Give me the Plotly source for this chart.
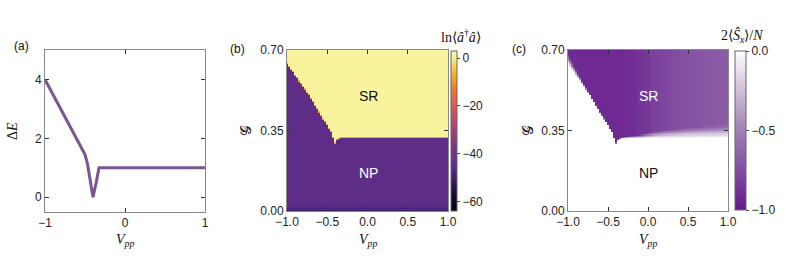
import numpy as np
import plotly.graph_objects as go

W, H = 789, 263

# ---------------- data ----------------
# panel (a): gap Delta E vs V_pp
a_vpp = [-1.0, -0.52, -0.50, -0.47, -0.43, -0.40, -0.36, -0.325, 1.0]
a_dE = [4.0, 1.6, 1.45, 1.15, 0.5, 0.0, 0.5, 1.0, 1.0]

# heatmap grid (columns V_pp, rows G)
vpp_cols = np.round(np.arange(-1.0, 1.0001, 0.025), 3)
g_rows = np.round(np.arange(0.0, 0.7001, 0.005), 3)

# phase boundary G_c(V_pp), one value per column
boundary = [0.640, 0.628, 0.615, 0.603, 0.590, 0.578, 0.565, 0.553, 0.540,
            0.527, 0.514, 0.501, 0.487, 0.473, 0.458, 0.443, 0.428, 0.414,
            0.400, 0.386, 0.372, 0.357, 0.341, 0.316, 0.294, 0.308, 0.314,
            0.318, 0.319] + [0.320] * 52

# panel (b): ln<a^dag a> levels
b_sr_level = 1.5
b_edge_level = -8.0
b_np_level = -45.0
b_np_low_rows = [-52.0, -46.0, -49.0, -45.5, -47.0, -45.5, -46.0]  # lowest G rows

# panel (c): 2<S_x>/N level in SR phase per column and fade width above boundary
c_sr_level = [-0.92] * 29 + [
    -0.91, -0.90, -0.91, -0.88, -0.90, -0.89, -0.86, -0.88, -0.85, -0.87, -0.84,
    -0.85, -0.83, -0.82, -0.81, -0.80, -0.80, -0.79, -0.78, -0.78, -0.77, -0.77,
    -0.76, -0.76, -0.75, -0.75, -0.74, -0.74, -0.73, -0.73, -0.73, -0.72, -0.72,
    -0.72, -0.71, -0.71, -0.71, -0.70, -0.70, -0.70, -0.70, -0.69, -0.69, -0.69,
    -0.69, -0.68, -0.68, -0.68, -0.68, -0.67, -0.67, -0.67]
c_fade = [0.045, 0.040, 0.035, 0.030, 0.025, 0.021, 0.018, 0.015, 0.012, 0.010,
          0.008, 0.007] + [0.005] * 17 + [
    0.006, 0.007, 0.008, 0.009, 0.010, 0.011, 0.012, 0.013, 0.015, 0.016, 0.018,
    0.020, 0.022, 0.024, 0.026, 0.028, 0.029, 0.030, 0.032, 0.033, 0.034, 0.035,
    0.036, 0.037, 0.038, 0.039, 0.040, 0.041, 0.042, 0.043, 0.044, 0.045,
    0.046, 0.046, 0.047, 0.047, 0.048, 0.048, 0.049, 0.049, 0.050, 0.050,
    0.051, 0.051, 0.052, 0.052, 0.053, 0.053, 0.054, 0.054, 0.055, 0.055]

b_ticks = [0, -20, -40, -60]
c_ticks = [0.0, -0.5, -1.0]

# ---------------- build grids ----------------
bnd = np.array(boundary)[None, :]
G = g_rows[:, None] + 0 * bnd
dist = G - bnd
sr = dist >= 0

z_b = np.full(G.shape, b_np_level)
for k, v in enumerate(b_np_low_rows):
    z_b[k, :] = v
z_b[sr] = b_sr_level
z_b[(dist >= 0) & (dist < 0.005)] = b_edge_level

lvl = np.array(c_sr_level)[None, :]
fd = np.array(c_fade)[None, :]
frac = np.clip((dist + 0.0025) / fd, 0, 1)
z_c = np.where(sr, lvl * frac, 0.0)

# ---------------- figure ----------------
def px(x):
    return x / W

def py(y):
    return 1 - y / H

font = "Liberation Sans, Arial, sans-serif"
serif = "Liberation Serif, Times New Roman, serif"

inferno_like = [
    [0.00, "#000004"], [0.12, "#1a1040"], [0.22, "#45217c"], [0.28, "#5c2d88"],
    [0.38, "#75338c"], [0.50, "#a23f80"], [0.62, "#d0505c"], [0.72, "#ea6a3a"],
    [0.80, "#f69020"], [0.88, "#f8c040"], [0.94, "#f5e680"], [1.00, "#fbfbb0"]]
purple_white = [[0.0, "#64198c"], [0.5, "#a07fb5"], [1.0, "#ffffff"]]

fig = go.Figure()

fig.add_trace(go.Scatter(x=a_vpp, y=a_dE, mode="lines",
                         line=dict(color="#7a5591", width=3),
                         xaxis="x", yaxis="y", showlegend=False))

fig.add_trace(go.Heatmap(x=vpp_cols, y=g_rows, z=z_b, zmin=-64, zmax=3,
                         colorscale=inferno_like, xaxis="x2", yaxis="y2",
                         colorbar=dict(x=px(451), xanchor="left", xpad=0,
                                       y=py(51), yanchor="top", ypad=0,
                                       len=160, lenmode="pixels",
                                       thickness=6, thicknessmode="pixels",
                                       outlinecolor="#666", outlinewidth=1,
                                       tickvals=b_ticks, ticks="outside",
                                       ticklen=3, tickcolor="#444",
                                       tickfont=dict(family=font, size=12, color="#222"))))

fig.add_trace(go.Heatmap(x=vpp_cols, y=g_rows, z=z_c, zmin=-1, zmax=0,
                         colorscale=purple_white, xaxis="x3", yaxis="y3",
                         colorbar=dict(x=px(735), xanchor="left", xpad=0,
                                       y=py(51), yanchor="top", ypad=0,
                                       len=159, lenmode="pixels",
                                       thickness=11, thicknessmode="pixels",
                                       outlinecolor="#666", outlinewidth=1,
                                       tickvals=c_ticks, tickformat=".1f",
                                       ticks="outside", ticklen=3, tickcolor="#444",
                                       tickfont=dict(family=font, size=12, color="#222"))))

axis_common = dict(showgrid=False, zeroline=False, showline=True, linecolor="#888",
                   linewidth=1, mirror="ticks", ticks="inside", ticklen=4,
                   tickcolor="#333", tickfont=dict(family=font, size=12, color="#222"))

fig.update_layout(
    width=W, height=H, margin=dict(l=0, r=0, t=0, b=0, autoexpand=False),
    paper_bgcolor="white", plot_bgcolor="white",
    xaxis=dict(domain=[px(45), px(205)], range=[-1, 1], tickvals=[-1, 0, 1],
               anchor="y", **axis_common),
    yaxis=dict(domain=[py(212), py(50)], range=[-0.5, 5], tickvals=[0, 2, 4],
               anchor="x", **axis_common),
    xaxis2=dict(domain=[px(287), px(448)], range=[-1, 1],
                tickvals=[-1, -0.5, 0, 0.5, 1], tickformat=".1f",
                anchor="y2", **axis_common),
    yaxis2=dict(domain=[py(211), py(50)], range=[0, 0.7],
                tickvals=[0, 0.35, 0.7], tickformat=".2f",
                anchor="x2", **axis_common),
    xaxis3=dict(domain=[px(568), px(728)], range=[-1, 1],
                tickvals=[-1, -0.5, 0, 0.5, 1], tickformat=".1f",
                anchor="y3", **axis_common),
    yaxis3=dict(domain=[py(211), py(50)], range=[0, 0.7],
                tickvals=[0, 0.35, 0.7], tickformat=".2f",
                anchor="x3", **axis_common),
)

ann = []
def text(x, y, s, size=13, fam=font, color="#111", angle=0):
    ann.append(dict(x=px(x), y=py(y), xref="paper", yref="paper", text=s,
                    showarrow=False, textangle=angle,
                    font=dict(family=fam, size=size, color=color),
                    xanchor="center", yanchor="middle"))

vpp_title = "<i>V</i><sub><i>pp</i></sub>"
text(21, 46, "(a)", 12)
text(237, 49, "(b)", 12)
text(519, 49, "(c)", 12)
text(125, 240, vpp_title, 14, serif)
text(368, 240, vpp_title, 14, serif)
text(648, 240, vpp_title, 14, serif)
text(13, 131, "Δ<i>E</i>", 14, serif, angle=-90)
text(246, 131, "𝒢", 15, serif, angle=-90)
text(528, 131, "𝒢", 15, serif, angle=-90)
text(461, 36, "ln⟨<i>â</i><sup>†</sup><i>â</i>⟩", 14, serif)
text(742, 36, "2⟨<i>Ŝ</i><sub><i>x</i></sub>⟩/<i>N</i>", 14, serif)
text(368, 96, "SR", 14, font, "#111")
text(368, 173, "NP", 14, font, "#ffffff")
text(648, 96, "SR", 14, font, "#ffffff")
text(648, 173, "NP", 14, font, "#111")
fig.update_layout(annotations=ann)

fig.write_html("out.html", config={"displayModeBar": False},
               post_script="document.body.style.margin='0px';"
                           "document.documentElement.style.overflow='hidden';")
